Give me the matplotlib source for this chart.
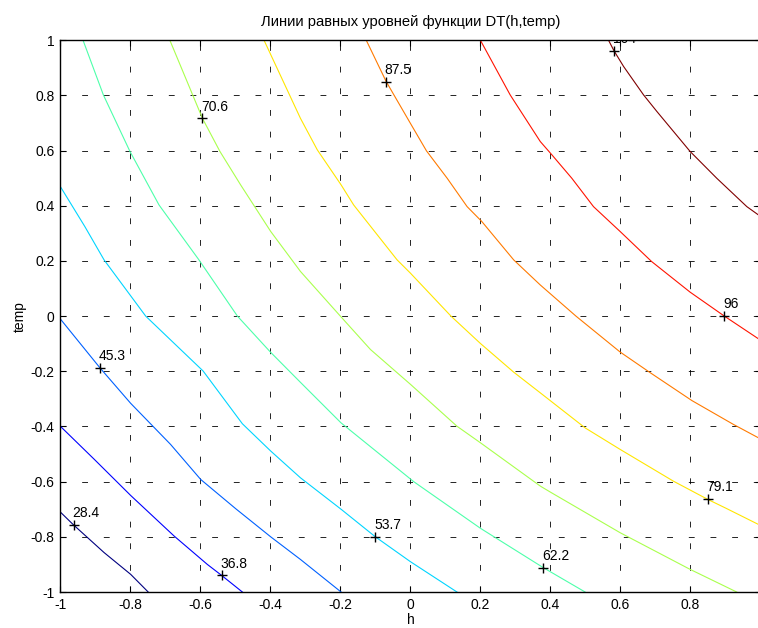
import numpy as np
import matplotlib
matplotlib.use("Agg")
import matplotlib.pyplot as plt
import matplotlib.cm as cm
from matplotlib.ticker import FuncFormatter

plt.rcParams['font.family'] = ['Liberation Sans', 'DejaVu Sans']
plt.rcParams['axes.unicode_minus'] = False

# contour levels and the traced lines (h, temp) for each of them
levels = [28.4, 36.8, 45.3, 53.7, 62.2, 70.6, 79.1, 87.5, 96, 104.4]
level_text = ["28.4", "36.8", "45.3", "53.7", "62.2", "70.6", "79.1", "87.5", "96", "104"]

h_28 = [-1.0, -0.962, -0.875, -0.799, -0.749]
t_28 = [-0.71, -0.757, -0.857, -0.936, -1.0]

h_36 = [-1.0, -0.903, -0.799, -0.675, -0.580, -0.539, -0.480]
t_36 = [-0.399, -0.519, -0.650, -0.797, -0.900, -0.940, -1.0]

h_45 = [-1.0, -0.887, -0.799, -0.685, -0.599, -0.499, -0.399, -0.314, -0.198]
t_45 = [-0.01, -0.187, -0.316, -0.465, -0.592, -0.698, -0.800, -0.882, -1.0]

h_53 = [-1.0, -0.93, -0.875, -0.756, -0.592, -0.480, -0.399, -0.314, -0.198, -0.10, 0.0, 0.133]
t_53 = [0.47, 0.325, 0.204, 0.0, -0.199, -0.390, -0.489, -0.586, -0.700, -0.80, -0.890, -1.0]

h_62 = [-0.935, -0.877, -0.801, -0.718, -0.604, -0.494, -0.40, -0.314, -0.198, 0.0095, 0.2, 0.38, 0.499]
t_62 = [1.0, 0.802, 0.597, 0.403, 0.204, 0.0, -0.13, -0.24, -0.387, -0.600, -0.769, -0.912, -1.0]

h_70 = [-0.687, -0.594, -0.544, -0.485, -0.399, -0.314, -0.2, -0.114, 0.0, 0.133, 0.2,
        0.371, 0.4, 0.599, 0.799, 0.932]
t_70 = [1.0, 0.717, 0.597, 0.476, 0.307, 0.162, 0.0, -0.121, -0.247, -0.399, -0.459,
        -0.616, -0.638, -0.785, -0.918, -1.0]

h_79 = [-0.418, -0.314, -0.266, -0.198, -0.162, -0.038, 0.0, 0.116, 0.2, 0.295, 0.371,
        0.499, 0.599, 0.751, 0.849, 0.904, 0.994]
t_79 = [1.0, 0.717, 0.603, 0.476, 0.403, 0.204, 0.156, 0.0, -0.099, -0.203, -0.278,
        -0.405, -0.483, -0.598, -0.664, -0.698, -0.755]

h_87 = [-0.126, -0.069, 0.0, 0.046, 0.105, 0.162, 0.204, 0.295, 0.371, 0.473, 0.599,
        0.685, 0.804, 0.922, 0.994]
t_87 = [1.0, 0.850, 0.699, 0.599, 0.5, 0.397, 0.343, 0.204, 0.113, 0.0, -0.130,
        -0.205, -0.306, -0.392, -0.441]

h_96 = [0.2, 0.285, 0.371, 0.404, 0.461, 0.523, 0.599, 0.689, 0.799, 0.897, 0.994]
t_96 = [1.0, 0.802, 0.633, 0.585, 0.5, 0.397, 0.307, 0.198, 0.087, 0.0, -0.082]

h_104 = [0.566, 0.582, 0.609, 0.666, 0.704, 0.799, 0.875, 0.961, 0.994]
t_104 = [1.0, 0.961, 0.905, 0.802, 0.742, 0.597, 0.5, 0.397, 0.367]

# where clabel put the "+" marks
label_h = [-0.962, -0.539, -0.887, -0.10, 0.380, -0.594, 0.849, -0.069, 0.897, 0.582]
label_t = [-0.757, -0.940, -0.187, -0.80, -0.912, 0.717, -0.664, 0.850, 0.0, 0.961]

ticks = [-1, -0.8, -0.6, -0.4, -0.2, 0, 0.2, 0.4, 0.6, 0.8, 1]

lines_h = [h_28, h_36, h_45, h_53, h_62, h_70, h_79, h_87, h_96, h_104]
lines_t = [t_28, t_36, t_45, t_53, t_62, t_70, t_79, t_87, t_96, t_104]

fig = plt.figure(figsize=(7.58, 6.28), dpi=100)
ax = fig.add_axes([60.3 / 758, 36 / 628, 700.2 / 758, 551.7 / 628])

colors = cm.jet(np.linspace(0, 1, len(levels)))
for hh, tt, c in zip(lines_h, lines_t, colors):
    ax.plot(hh, tt, color=c, lw=0.8)

ax.plot(label_h, label_t, '+', color='black', ms=7, mew=1.0, zorder=5)
for x, y, s in zip(label_h, label_t, level_text):
    ax.annotate(s, (x, y), xytext=(-1, 3.5), textcoords='offset points',
                ha='left', va='bottom', fontsize=10, annotation_clip=False,
                clip_on=True, zorder=6)

ax.set_xlim(-1, 1)
ax.set_ylim(-1, 1)
ax.set_xticks(ticks[:-1])
ax.set_yticks(ticks)
fmt = FuncFormatter(lambda v, p: '%g' % (round(v, 1) + 0.0))
ax.xaxis.set_major_formatter(fmt)
ax.yaxis.set_major_formatter(fmt)
ax.tick_params(direction='in', length=4, width=0.8, top=True, right=True,
               labelsize=10, pad=4)
ax.grid(True, color='black', linestyle=(0, (7, 19)), linewidth=0.6)
ax.axvline(1, color='black', linestyle=(0, (7, 19)), linewidth=0.6)
for sp in ax.spines.values():
    sp.set_linewidth(1.0)

ax.set_title('Линии равных уровней функции DT(h,temp)', fontsize=10.6, pad=10)
ax.set_xlabel('h', fontsize=10, labelpad=1)
ax.set_ylabel('temp', fontsize=10, labelpad=3)

fig.savefig('out.png', dpi=100)
